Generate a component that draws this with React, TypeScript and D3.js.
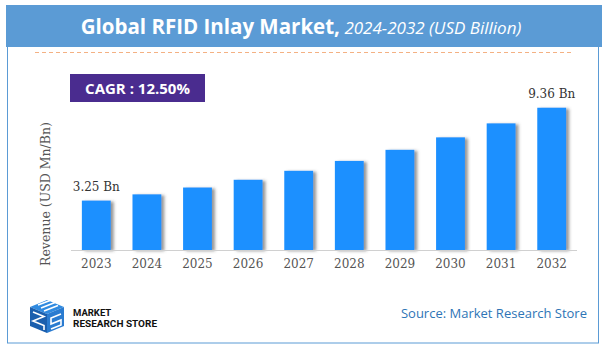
import React from 'react';
import * as d3 from 'd3';

const years = ['2023', '2024', '2025', '2026', '2027', '2028', '2029', '2030', '2031', '2032'];
const revenue = [3.25, 3.66, 4.11, 4.62, 5.21, 5.86, 6.59, 7.41, 8.33, 9.36];
const labelled = ['2023', '2032'];
const titleMain = 'Global RFID Inlay Market,';
const titleSub = ' 2024-2032 (USD Billion)';
const cagr = 'CAGR :  12.50%';

const W = 608;
const H = 354;
const plot = { left: 71, right: 577, top: 98, bottom: 250 };

export default function App() {
  const x = d3.scaleBand<string>()
    .domain(years)
    .range([plot.left, plot.right])
    .paddingInner(0.43)
    .paddingOuter(0.215);

  const y = d3.scaleLinear()
    .domain([0, 10])
    .range([plot.bottom, plot.top]);

  return (
    <svg width={W} height={H} style={{ position: 'absolute', left: 0, top: 0, background: '#fff' }}>
      <defs>
        <filter id="barShadow" x="-20%" y="-10%" width="150%" height="120%">
          <feDropShadow dx="3" dy="1" stdDeviation="1.6" floodColor="#444" floodOpacity="0.55" />
        </filter>
      </defs>

      {/* frame + title bar */}
      <rect x={7.5} y={20} width={591} height={323} fill="none" stroke="#5b9bd5" strokeWidth={1} />
      <rect x={6} y={5} width={596} height={42} fill="#5b9bd5" />
      <text x={301} y={34} textAnchor="middle" fill="#fff" fontFamily="'Open Sans', sans-serif">
        <tspan fontWeight="bold" fontSize={20.5}>{titleMain}</tspan>
        <tspan fontStyle="italic" fontSize={17}>{titleSub}</tspan>
      </text>

      {/* dashed separator */}
      <line x1={35} x2={573} y1={52.5} y2={52.5} stroke="#f4b183" strokeWidth={1} strokeDasharray="4 3" />

      {/* CAGR badge */}
      <rect x={70} y={74} width={135} height={28} fill="#4a2c8f" />
      <text x={137.5} y={93.5} textAnchor="middle" fill="#fff" fontFamily="'Open Sans', sans-serif" fontWeight="bold" fontSize={15}>
        {cagr}
      </text>

      {/* y axis title */}
      <text
        transform={`translate(50, ${(plot.top + plot.bottom) / 2 + 20}) rotate(-90)`}
        textAnchor="middle"
        fill="#555"
        fontFamily="'DejaVu Serif', serif"
        fontSize={12.5}
      >
        Revenue (USD Mn/Bn)
      </text>

      {/* bars */}
      <g filter="url(#barShadow)">
        {years.map((yr, i) => (
          <rect
            key={yr}
            x={x(yr)}
            y={y(revenue[i])}
            width={x.bandwidth()}
            height={plot.bottom - y(revenue[i])}
            fill="#1e90ff"
          />
        ))}
      </g>

      {/* baseline */}
      <line x1={plot.left} x2={plot.right} y1={plot.bottom + 0.5} y2={plot.bottom + 0.5} stroke="#d0d0d0" strokeWidth={1} />

      {/* x tick labels */}
      {years.map(yr => (
        <text
          key={yr}
          x={(x(yr) as number) + x.bandwidth() / 2}
          y={268}
          textAnchor="middle"
          fill="#555"
          fontFamily="'DejaVu Serif', serif"
          fontSize={12}
        >
          {yr}
        </text>
      ))}

      {/* value labels on first and last bars */}
      {years.map((yr, i) => labelled.includes(yr) ? (
        <text
          key={'v' + yr}
          x={(x(yr) as number) + x.bandwidth() / 2}
          y={y(revenue[i]) - 10}
          textAnchor="middle"
          fill="#333"
          fontFamily="'DejaVu Serif', serif"
          fontSize={12}
        >
          {revenue[i].toFixed(2)} Bn
        </text>
      ) : null)}

      {/* logo */}
      <g>
        <path d="M30,307 L47,300 L64,307 L47,314 Z" fill="#2f8ae0" />
        <path d="M30,307 L47,314 L47,333 L30,326 Z" fill="#1b5fae" />
        <path d="M47,314 L64,307 L64,326 L47,333 Z" fill="#2a7bd0" />
        <path d="M38,305 L50,300.5 M41,308 L55,302.5 M44,311 L58,305.5" stroke="#fff" strokeWidth={1.6} fill="none" />
        <path d="M33,312 L44,316.5 L33,321 L44,325.5 L44,330" stroke="#fff" strokeWidth={1.6} fill="none" />
        <path d="M51,329 L61,325 L61,320 L51,324 L51,318 L61,314" stroke="#fff" strokeWidth={1.6} fill="none" />
        <text x={73} y={316} fontFamily="'Liberation Sans Narrow', 'Roboto', sans-serif" fontWeight="bold" fontSize={9.5} fill="#111">
          MARKET
        </text>
        <text x={73} y={327} fontFamily="'Liberation Sans Narrow', 'Roboto', sans-serif" fontWeight="bold" fontSize={9.5} fill="#111" textLength={84} lengthAdjust="spacingAndGlyphs">
          RESEARCH STORE
        </text>
      </g>

      {/* source */}
      <text x={587} y={318} textAnchor="end" fill="#2e75b6" fontFamily="'Open Sans', sans-serif" fontSize={13}>
        Source: Market Research Store
      </text>
    </svg>
  );
}
